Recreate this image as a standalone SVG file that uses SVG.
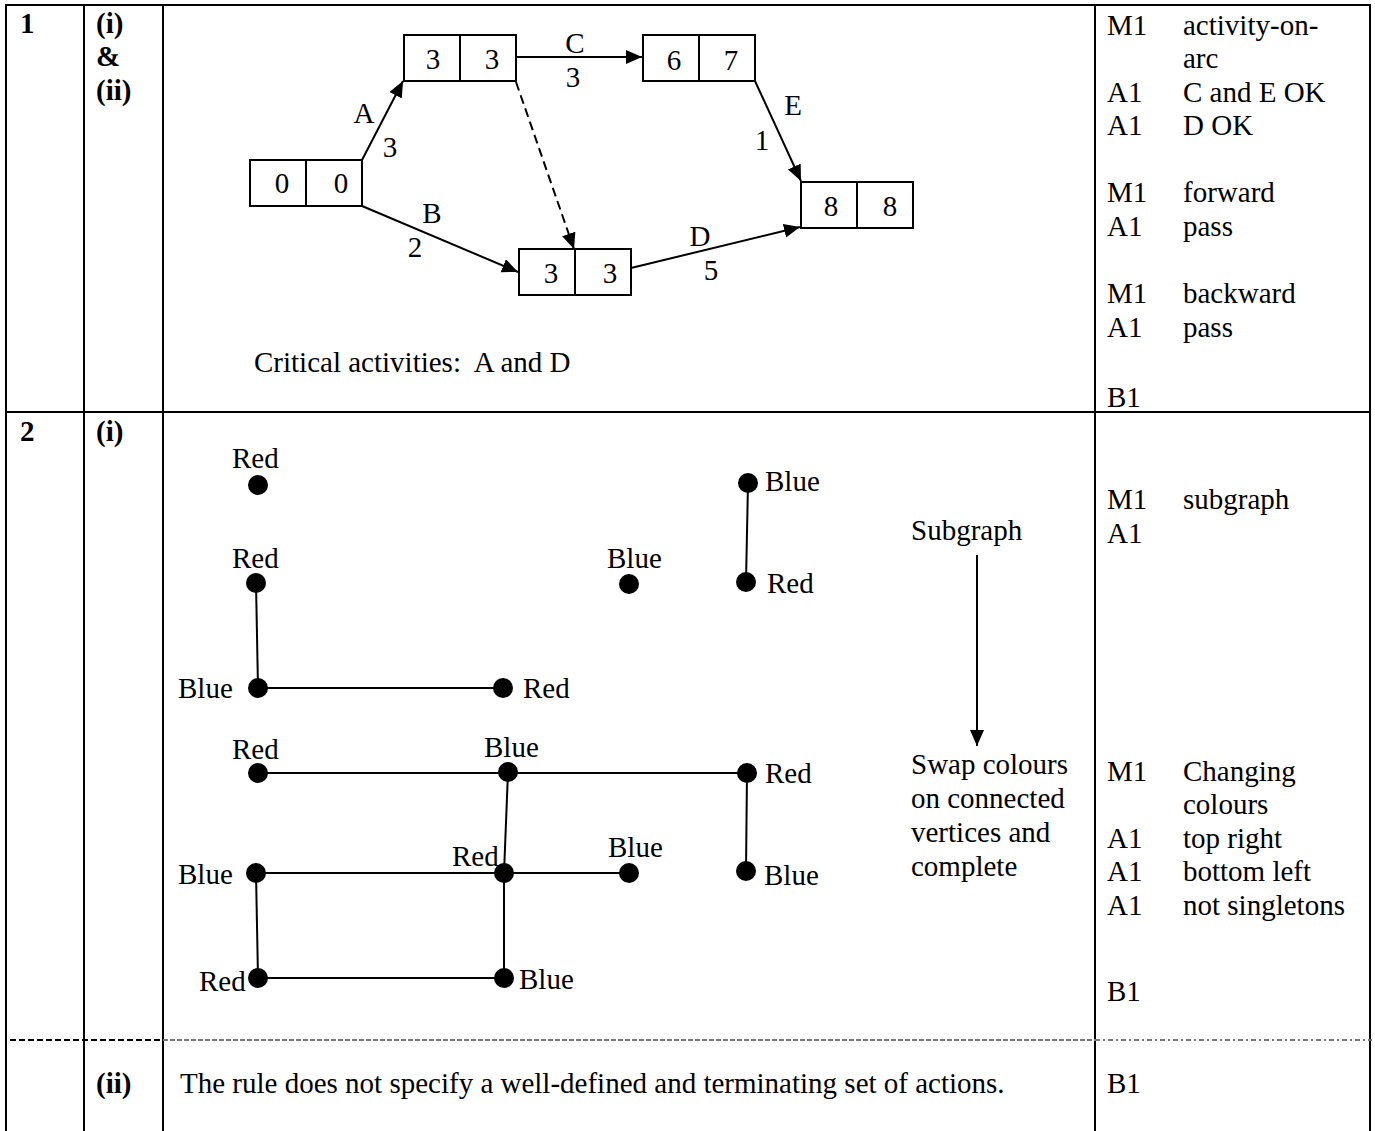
<svg xmlns="http://www.w3.org/2000/svg" width="1375" height="1131" viewBox="0 0 1375 1131">
<style>
text{font-family:"Liberation Serif","Times New Roman",serif;font-size:29px;fill:#000}
.b{font-weight:bold}
.m{text-anchor:middle}
.tl{stroke:#000;stroke-width:2;fill:none}
.box{fill:#fff;stroke:#000;stroke-width:2}
.arc{stroke:#000;stroke-width:2;fill:none}
.edge{stroke:#000;stroke-width:2;fill:none}
.v{fill:#000}
</style>
<defs>
<marker id="ah" markerUnits="userSpaceOnUse" markerWidth="17" markerHeight="15" refX="16" refY="7" orient="auto">
<path d="M0,0 L16,7 L0,14 z" fill="#000"/>
</marker>
</defs>
<rect width="1375" height="1131" fill="#fff"/>
<g id="table">
<line class="tl" x1="5" y1="5" x2="1371" y2="5"/>
<line class="tl" x1="5" y1="412" x2="1371" y2="412"/>
<line class="tl" x1="6" y1="4" x2="6" y2="1131"/>
<line class="tl" x1="84" y1="4" x2="84" y2="1131"/>
<line class="tl" x1="163" y1="4" x2="163" y2="1131"/>
<line class="tl" x1="1095" y1="4" x2="1095" y2="1131"/>
<line class="tl" x1="1370" y1="4" x2="1370" y2="1131"/>
<line x1="10" y1="1040" x2="163" y2="1040" stroke="#000" stroke-width="2" stroke-dasharray="6,3"/>
<line x1="163" y1="1040" x2="1095" y2="1040" stroke="#777" stroke-width="2" stroke-dasharray="5,2"/>
<line x1="1095" y1="1040" x2="1372" y2="1040" stroke="#777" stroke-width="2" stroke-dasharray="5,3,2,3"/>
</g>
<g id="labels-left">
<text class="b" x="20" y="33">1</text>
<text class="b" x="96" y="33">(i)</text>
<text class="b" x="96" y="66">&amp;</text>
<text class="b" x="96" y="100">(ii)</text>
<text class="b" x="20" y="441">2</text>
<text class="b" x="96" y="441">(i)</text>
<text class="b" x="96" y="1093">(ii)</text>
</g>
<g id="marks">
<text x="1107" y="35">M1</text><text x="1183" y="35">activity-on-</text>
<text x="1183" y="68">arc</text>
<text x="1107" y="102">A1</text><text x="1183" y="102">C and E OK</text>
<text x="1107" y="135">A1</text><text x="1183" y="135">D OK</text>
<text x="1107" y="202">M1</text><text x="1183" y="202">forward</text>
<text x="1107" y="236">A1</text><text x="1183" y="236">pass</text>
<text x="1107" y="303">M1</text><text x="1183" y="303">backward</text>
<text x="1107" y="337">A1</text><text x="1183" y="337">pass</text>
<text x="1107" y="407">B1</text>
<text x="1107" y="509">M1</text><text x="1183" y="509">subgraph</text>
<text x="1107" y="543">A1</text>
<text x="1107" y="781">M1</text><text x="1183" y="781">Changing</text>
<text x="1183" y="814">colours</text>
<text x="1107" y="848">A1</text><text x="1183" y="848">top right</text>
<text x="1107" y="881">A1</text><text x="1183" y="881">bottom left</text>
<text x="1107" y="915">A1</text><text x="1183" y="915">not singletons</text>
<text x="1107" y="1001">B1</text>
<text x="1107" y="1093">B1</text>
</g>
<g id="connectors">
<line class="arc" x1="362" y1="160" x2="403" y2="81" marker-end="url(#ah)"/>
<line class="arc" x1="516" y1="57" x2="642" y2="57" marker-end="url(#ah)"/>
<line class="arc" x1="516" y1="82" x2="574" y2="249" stroke-dasharray="9,5" marker-end="url(#ah)"/>
<line class="arc" x1="362" y1="206" x2="518" y2="272" marker-end="url(#ah)"/>
<line class="arc" x1="631" y1="268" x2="800" y2="227" marker-end="url(#ah)"/>
<line class="arc" x1="755" y1="81" x2="801" y2="181" marker-end="url(#ah)"/>
<line class="arc" x1="977" y1="555" x2="977" y2="746" marker-end="url(#ah)"/>
<line class="edge" x1="256" y1="583" x2="258" y2="688"/>
<line class="edge" x1="258" y1="688" x2="503" y2="688"/>
<line class="edge" x1="748" y1="483" x2="746" y2="582"/>
<line class="edge" x1="258" y1="773" x2="747" y2="773"/>
<line class="edge" x1="508" y1="772" x2="504" y2="873"/>
<line class="edge" x1="747" y1="773" x2="746" y2="871"/>
<line class="edge" x1="256" y1="873" x2="629" y2="873"/>
<line class="edge" x1="256" y1="873" x2="258" y2="978"/>
<line class="edge" x1="504" y1="873" x2="504" y2="978"/>
<line class="edge" x1="258" y1="978" x2="504" y2="978"/>
</g>
<g id="arc-labels">
<text class="m" x="364" y="123">A</text><text class="m" x="390" y="157">3</text>
<text class="m" x="575" y="53">C</text><text class="m" x="573" y="87">3</text>
<text class="m" x="432" y="223">B</text><text class="m" x="415" y="257">2</text>
<text class="m" x="700" y="246">D</text><text class="m" x="711" y="280">5</text>
<text class="m" x="793" y="115">E</text><text class="m" x="762" y="150">1</text>
</g>
<g id="node-0">
<rect class="box" x="250" y="160" width="112" height="46"/><line class="tl" x1="306" y1="160" x2="306" y2="206"/>
<text class="m" x="282" y="193">0</text><text class="m" x="341" y="193">0</text>
</g>
<g id="node-1">
<rect class="box" x="404" y="35" width="112" height="46"/><line class="tl" x1="460" y1="35" x2="460" y2="81"/>
<text class="m" x="433" y="69">3</text><text class="m" x="492" y="69">3</text>
</g>
<g id="node-2">
<rect class="box" x="643" y="35" width="112" height="46"/><line class="tl" x1="699" y1="35" x2="699" y2="81"/>
<text class="m" x="674" y="70">6</text><text class="m" x="731" y="70">7</text>
</g>
<g id="node-3">
<rect class="box" x="519" y="249" width="112" height="46"/><line class="tl" x1="575" y1="249" x2="575" y2="295"/>
<text class="m" x="551" y="283">3</text><text class="m" x="610" y="283">3</text>
</g>
<g id="node-4">
<rect class="box" x="801" y="182" width="112" height="46"/><line class="tl" x1="857" y1="182" x2="857" y2="228"/>
<text class="m" x="831" y="216">8</text><text class="m" x="890" y="216">8</text>
</g>
<text x="254" y="372" xml:space="preserve" style="white-space:pre">Critical activities:  A and D</text>
<g id="v1"><circle class="v" cx="258" cy="485" r="10"/><text x="232" y="468">Red</text></g>
<g id="v2"><circle class="v" cx="256" cy="583" r="10"/><text x="232" y="568">Red</text></g>
<g id="v3"><circle class="v" cx="258" cy="688" r="10"/><text x="178" y="698">Blue</text></g>
<g id="v4"><circle class="v" cx="503" cy="688" r="10"/><text x="523" y="698">Red</text></g>
<g id="v5"><circle class="v" cx="629" cy="584" r="10"/><text x="607" y="568">Blue</text></g>
<g id="v6"><circle class="v" cx="748" cy="483" r="10"/><text x="765" y="491">Blue</text></g>
<g id="v7"><circle class="v" cx="746" cy="582" r="10"/><text x="767" y="593">Red</text></g>
<g id="v8"><circle class="v" cx="258" cy="773" r="10"/><text x="232" y="759">Red</text></g>
<g id="v9"><circle class="v" cx="508" cy="772" r="10"/><text x="484" y="757">Blue</text></g>
<g id="v10"><circle class="v" cx="747" cy="773" r="10"/><text x="765" y="783">Red</text></g>
<g id="v11"><circle class="v" cx="256" cy="873" r="10"/><text x="178" y="884">Blue</text></g>
<g id="v12"><circle class="v" cx="504" cy="873" r="10"/><text x="452" y="866">Red</text></g>
<g id="v13"><circle class="v" cx="629" cy="873" r="10"/><text x="608" y="857">Blue</text></g>
<g id="v14"><circle class="v" cx="746" cy="871" r="10"/><text x="764" y="885">Blue</text></g>
<g id="v15"><circle class="v" cx="258" cy="978" r="10"/><text x="199" y="991">Red</text></g>
<g id="v16"><circle class="v" cx="504" cy="978" r="10"/><text x="519" y="989">Blue</text></g>
<g id="notes">
<text x="911" y="540">Subgraph</text>
<text x="911" y="774">Swap colours</text>
<text x="911" y="808">on connected</text>
<text x="911" y="842">vertices and</text>
<text x="911" y="876">complete</text>
</g>
<text x="180" y="1093">The rule does not specify a well-defined and terminating set of actions.</text>
</svg>
